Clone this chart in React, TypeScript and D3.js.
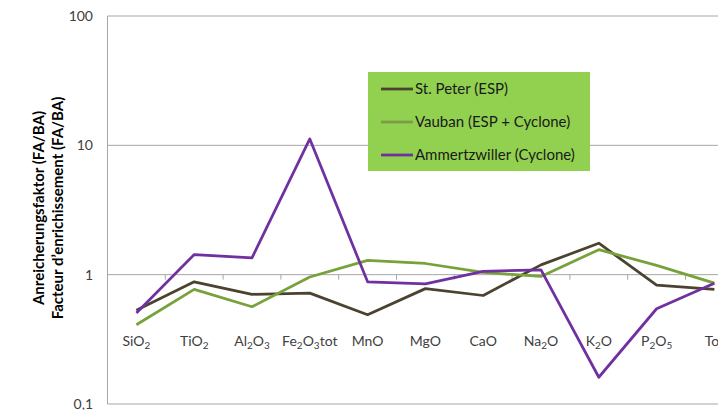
import React, { useEffect, useRef } from 'react';
import * as d3 from 'd3';

// oxides along the x axis (digits are drawn as subscripts)
const categories = ['SiO2', 'TiO2', 'Al2O3', 'Fe2O3tot', 'MnO', 'MgO', 'CaO', 'Na2O', 'K2O', 'P2O5', 'Tot'];

const stPeter = [0.53, 0.88, 0.705, 0.72, 0.49, 0.78, 0.69, 1.19, 1.75, 0.83, 0.77];
const vauban = [0.41, 0.77, 0.565, 0.96, 1.29, 1.22, 1.04, 0.97, 1.56, 1.18, 0.86];
const ammertzwiller = [0.505, 1.43, 1.35, 11.2, 0.88, 0.85, 1.06, 1.09, 0.161, 0.545, 0.86];

const yTicks = [0.1, 1, 10, 100];
const yTickLabels = ['0,1', '1', '10', '100'];

const series = [
  { name: 'St. Peter (ESP)', values: stPeter, color: '#4b4330', legendColor: '#4b4330' },
  { name: 'Vauban (ESP + Cyclone)', values: vauban, color: '#77a23a', legendColor: '#7f9a48' },
  { name: 'Ammertzwiller (Cyclone)', values: ammertzwiller, color: '#7030a0', legendColor: '#7030a0' },
];

const FONT = 'Lato, "Open Sans", sans-serif';

const App = () => {
  const ref = useRef<SVGSVGElement>(null);

  useEffect(() => {
    const svg = d3.select(ref.current);
    svg.selectAll('*').remove();

    const left = 107.5;
    const bandW = 57.8;
    const x = d3.scaleBand<string>()
      .domain(categories)
      .range([left, left + bandW * categories.length]);
    const y = d3.scaleLog().domain([0.1, 100]).range([404, 16]);

    // gridlines
    svg.append('g')
      .selectAll('line')
      .data(yTicks)
      .join('line')
      .attr('x1', left)
      .attr('x2', 760)
      .attr('y1', d => y(d))
      .attr('y2', d => y(d))
      .attr('stroke', '#a6a6a6')
      .attr('stroke-width', 1);

    // vertical axis
    svg.append('line')
      .attr('x1', left).attr('x2', left)
      .attr('y1', y(100)).attr('y2', y(0.1))
      .attr('stroke', '#a6a6a6');

    // category tick marks on the 1 line
    svg.append('g')
      .selectAll('line')
      .data(categories.slice(1))
      .join('line')
      .attr('x1', d => x(d)!)
      .attr('x2', d => x(d)!)
      .attr('y1', y(1))
      .attr('y2', y(1) + 5)
      .attr('stroke', '#a6a6a6');

    // y tick labels
    svg.append('g')
      .selectAll('text')
      .data(yTicks)
      .join('text')
      .attr('x', 93)
      .attr('y', d => y(d))
      .attr('dy', '0.35em')
      .attr('text-anchor', 'end')
      .attr('font-family', FONT)
      .attr('font-size', 14)
      .attr('fill', '#404040')
      .text((d, i) => yTickLabels[i]);

    // category labels with subscripts
    const catLabels = svg.append('g')
      .selectAll('text')
      .data(categories)
      .join('text')
      .attr('x', d => x(d)! + x.bandwidth() / 2)
      .attr('y', 346)
      .attr('text-anchor', 'middle')
      .attr('font-family', FONT)
      .attr('font-size', 14)
      .attr('fill', '#404040');

    catLabels.each(function (d) {
      const t = d3.select(this);
      const parts = d.match(/\d+|\D+/g) || [];
      let sub = false;
      parts.forEach(p => {
        const isNum = /\d/.test(p);
        const span = t.append('tspan').text(p);
        if (isNum) {
          span.attr('font-size', 10).attr('dy', sub ? 0 : 3);
          sub = true;
        } else if (sub) {
          span.attr('dy', -3);
          sub = false;
        }
      });
    });

    // axis title
    const title = svg.append('text')
      .attr('transform', 'translate(44,208) rotate(-90)')
      .attr('text-anchor', 'middle')
      .attr('font-family', FONT)
      .attr('font-size', 15)
      .attr('font-weight', 'bold')
      .attr('fill', '#000');
    title.append('tspan').attr('x', 0).attr('dy', 0).text('Anreicherungsfaktor (FA/BA)');
    title.append('tspan').attr('x', 0).attr('dy', 19).text("Facteur d\u2019enrichissement (FA/BA)");

    // lines
    const line = d3.line<number>()
      .x((d, i) => x(categories[i])! + x.bandwidth() / 2)
      .y(d => y(d));

    svg.append('g')
      .selectAll('path')
      .data(series)
      .join('path')
      .attr('d', d => line(d.values))
      .attr('fill', 'none')
      .attr('stroke', d => d.color)
      .attr('stroke-width', 2.75)
      .attr('stroke-linejoin', 'round');

    // legend
    const lg = svg.append('g').attr('transform', 'translate(368,72)');
    lg.append('rect')
      .attr('width', 222)
      .attr('height', 99)
      .attr('fill', '#92d050');
    const item = lg.selectAll('g.item')
      .data(series)
      .join('g')
      .attr('class', 'item')
      .attr('transform', (d, i) => `translate(0,${17 + i * 33})`);
    item.append('line')
      .attr('x1', 13).attr('x2', 45)
      .attr('stroke', d => d.legendColor)
      .attr('stroke-width', 2.75);
    item.append('text')
      .attr('x', 47)
      .attr('dy', '0.35em')
      .attr('font-family', FONT)
      .attr('font-size', 15)
      .attr('fill', '#1a1a1a')
      .text(d => d.name);
  }, []);

  return (
    <svg
      ref={ref}
      width={718}
      height={410}
      style={{ position: 'absolute', left: 0, top: 0, background: '#fff' }}
    />
  );
};

export default App;
